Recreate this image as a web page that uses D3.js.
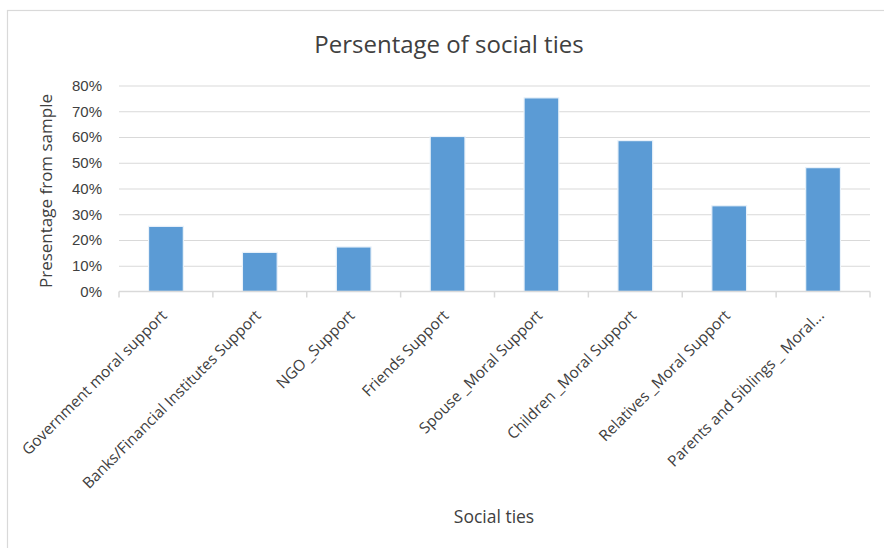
<!DOCTYPE html>
<html>
<head>
<meta charset="utf-8">
<script src="https://cdn.jsdelivr.net/npm/d3@7"></script>
<style>
  html, body { margin: 0; padding: 0; background: #fff; }
  svg { display: block; font-family: "Open Sans", "Liberation Sans", sans-serif; }
</style>
</head>
<body>
<svg id="chart" width="884" height="548"></svg>
<script>
// Share of respondents reporting each kind of social tie
const categories = [
  "Government moral support",
  "Banks/Financial Institutes Support",
  "NGO _Support",
  "Friends Support",
  "Spouse _Moral Support",
  "Children _Moral Support",
  "Relatives _Moral Support",
  "Parents and Siblings _ Moral..."
];
const values = [0.253, 0.152, 0.173, 0.602, 0.752, 0.586, 0.333, 0.481];
const yTicks = [0, 0.1, 0.2, 0.3, 0.4, 0.5, 0.6, 0.7, 0.8];

const titleText = "Persentage of social ties";
const yTitle = "Presentage from sample";
const xTitle = "Social ties";

const svg = d3.select("#chart");
const W = 884, H = 548;
const plot = { left: 119, right: 870, top: 85.5, bottom: 291.5 };

const textColor = "#404040";
const gridColor = "#d9d9d9";
const barColor = "#5b9bd5";

// Chart frame (continues past the right and bottom edges)
svg.append("rect")
  .attr("x", 7.5).attr("y", 10.5)
  .attr("width", W + 20).attr("height", H + 20)
  .attr("fill", "#fff")
  .attr("stroke", gridColor).attr("stroke-width", 1.2);

const x = d3.scaleBand()
  .domain(categories)
  .range([plot.left, plot.right])
  .paddingInner(1.7 / 2.7)
  .paddingOuter(1.7 / 2.7 / 2);

const y = d3.scaleLinear().domain([0, 0.8]).range([plot.bottom, plot.top]);

// Horizontal gridlines
const yAxis = d3.axisLeft(y)
  .tickValues(yTicks)
  .tickSize(-(plot.right - plot.left))
  .tickPadding(17)
  .tickFormat(d3.format(".0%"));

const gy = svg.append("g")
  .attr("transform", `translate(${plot.left},0)`)
  .call(yAxis);
gy.select(".domain").remove();
gy.selectAll(".tick line")
  .attr("stroke", gridColor).attr("stroke-width", 1.2)
  .attr("display", d => d === 0 ? "none" : null);
gy.selectAll(".tick text")
  .attr("fill", textColor)
  .attr("font-size", 15);

// Bars
svg.append("g").selectAll("rect")
  .data(categories)
  .join("rect")
  .attr("x", d => x(d))
  .attr("width", x.bandwidth())
  .attr("y", (d, i) => y(values[i]))
  .attr("height", (d, i) => y(0) - y(values[i]))
  .attr("fill", barColor)
  .attr("stroke", "#eaf2fa")
  .attr("stroke-width", 1.2);

// Category axis: baseline plus tick marks on band boundaries
const step = x.step();
const bounds = d3.range(categories.length + 1).map(i => plot.left + i * step);
const gx = svg.append("g");
gx.append("line")
  .attr("x1", plot.left).attr("x2", plot.right)
  .attr("y1", plot.bottom).attr("y2", plot.bottom)
  .attr("stroke", gridColor).attr("stroke-width", 1.5);
gx.selectAll("line.tk")
  .data(bounds)
  .join("line")
  .attr("class", "tk")
  .attr("x1", d => d).attr("x2", d => d)
  .attr("y1", plot.bottom).attr("y2", plot.bottom + 6)
  .attr("stroke", gridColor).attr("stroke-width", 1.5);

// Rotated category labels
gx.selectAll("text")
  .data(categories)
  .join("text")
  .attr("transform", d => `translate(${x(d) + x.bandwidth() / 2 + 2},${plot.bottom + 25}) rotate(-45)`)
  .attr("text-anchor", "end")
  .attr("fill", textColor)
  .attr("font-size", 15.4)
  .text(d => d);

// Titles
svg.append("text")
  .attr("x", 449).attr("y", 53)
  .attr("text-anchor", "middle")
  .attr("fill", textColor)
  .attr("font-size", 24)
  .text(titleText);

svg.append("text")
  .attr("transform", `translate(52,191) rotate(-90)`)
  .attr("text-anchor", "middle")
  .attr("fill", textColor)
  .attr("font-size", 17)
  .text(yTitle);

svg.append("text")
  .attr("x", 494).attr("y", 523)
  .attr("text-anchor", "middle")
  .attr("fill", textColor)
  .attr("font-size", 17.5)
  .text(xTitle);
</script>
</body>
</html>
